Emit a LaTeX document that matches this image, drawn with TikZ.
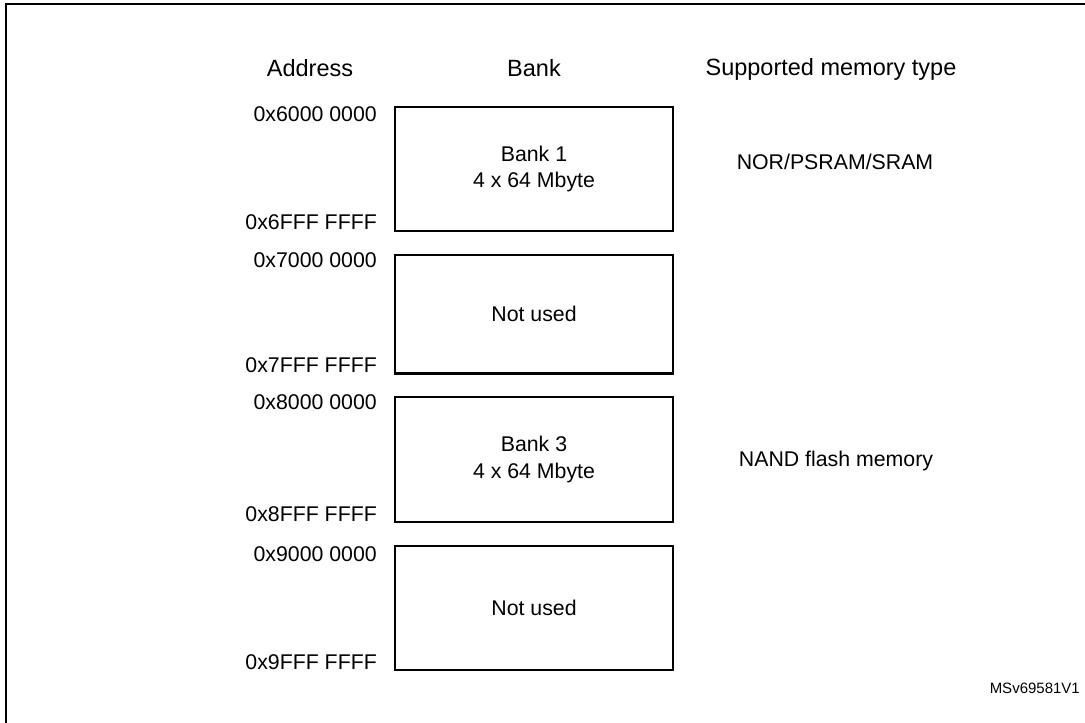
\documentclass[tikz,border=0pt]{standalone}
\usepackage{fontspec}
\setmainfont{Liberation Sans}
\begin{document}
\begin{tikzpicture}[x=1pt,y=-1pt,
  frame/.style={line width=2pt},
  bankbox/.style={draw, line width=2.5pt, minimum width=278pt, inner sep=0pt, outer sep=0pt,
     align=center, font=\fontsize{21.3}{26.3}\selectfont},
  addr/.style={anchor=base east, inner sep=0pt, font=\fontsize{21.3}{25}\selectfont},
  head/.style={anchor=base, inner sep=0pt, font=\fontsize{23.5}{28}\selectfont},
  memtype/.style={anchor=base, inner sep=0pt, font=\fontsize{21.3}{25}\selectfont},
  tag/.style={anchor=base east, inner sep=0pt, font=\fontsize{15}{18}\selectfont}]
\useasboundingbox (0,0) rectangle (1085,723);
% outer frame (only top and left edges visible)
\coordinate (ftl) at (6,4);
\coordinate (ftr) at (1090,4);
\coordinate (fbl) at (6,730);
\draw[frame] (ftr) -- (ftl) -- (fbl);
% headers
\node[head] (hAddr) at (310,76.5) {Address};
\node[head] (hBank) at (534,76.5) {Bank};
\node[head] (hType) at (831,75) {Supported memory type};
% banks
\node[bankbox, minimum height=124pt] (b1) at (534,169) {Bank 1\\4 x 64 Mbyte};
\node[bankbox, minimum height=118.5pt] (b2) at (534,314) {Not used};
\node[bankbox, minimum height=125pt] (b3) at (534,459.5) {Bank 3\\4 x 64 Mbyte};
\node[bankbox, minimum height=124pt] (b4) at (534,608) {Not used};
% addresses
\node[addr] (a1s) at (377,121.7) {0x6000 0000};
\node[addr] (a1e) at (377,229.5) {0x6FFF FFFF};
\node[addr] (a2s) at (377,267.7) {0x7000 0000};
\node[addr] (a2e) at (377,372) {0x7FFF FFFF};
\node[addr] (a3s) at (377,409) {0x8000 0000};
\node[addr] (a3e) at (377,521.5) {0x8FFF FFFF};
\node[addr] (a4s) at (377,561.5) {0x9000 0000};
\node[addr] (a4e) at (377,669) {0x9FFF FFFF};
% memory types
\node[memtype] (t1) at (835,169) {NOR/PSRAM/SRAM};
\node[memtype] (t3) at (836,466.7) {NAND flash memory};
% tag
\node[tag] (id) at (1080,693) {MSv69581V1};
\end{tikzpicture}
\end{document}
